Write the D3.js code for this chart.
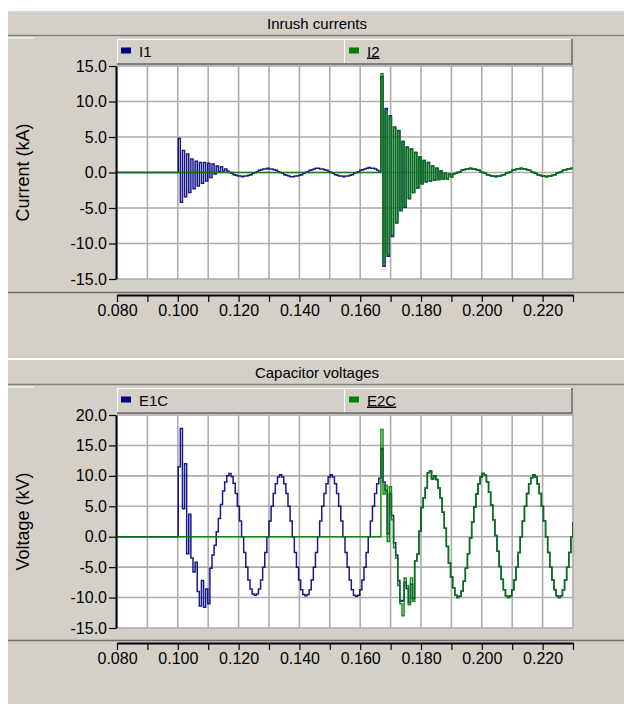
<!DOCTYPE html>
<html>
<head>
<meta charset="utf-8">
<script src="https://d3js.org/d3.v7.min.js"></script>
<style>
  body { margin: 0; background: #fff; }
  svg { display: block; font-family: "Liberation Sans", Arial, sans-serif; }
</style>
</head>
<body>
<svg id="chart" width="624" height="704"></svg>
<script>
// recorder sampling grid: 24 samples per 60 Hz cycle, starting at 0.080 s
const tStart = 0.08;
const tStep = 1 / 1440;

const timeTicks = [0.08, 0.09, 0.10, 0.11, 0.12, 0.13, 0.14, 0.15, 0.16, 0.17, 0.18, 0.19, 0.20, 0.21, 0.22, 0.23];
const timeLabels = [0.08, 0.10, 0.12, 0.14, 0.16, 0.18, 0.20, 0.22];
const currentTicks = [-15, -10, -5, 0, 5, 10, 15];
const voltageTicks = [-15, -10, -5, 0, 5, 10, 15, 20];

// capacitor bank 1 current (kA)
const i1 = [
  0,0,0,0,0,0,0,0,0,0,0,0,0,0,0,0,0,0,0,0,0,0,0,0,0,0,0,0,0,
  4.8,-4.2,3.1,-3.4,2.6,-2.8,1.9,-2.3,1.6,-1.9,1.4,-1.5,1.4,-1.2,1.3,-0.7,1.2,-0.2,0.9,0.1,0.8,0.2,0.5,0.2,
  0,-0.1,-0.3,-0.4,-0.5,-0.5,-0.6,-0.5,-0.5,-0.4,-0.3,-0.1,0,0.1,0.3,0.4,0.5,0.5,0.6,0.5,0.5,0.4,0.3,0.1,
  0,-0.1,-0.3,-0.4,-0.5,-0.6,-0.6,-0.5,-0.5,-0.4,-0.3,-0.1,0,0.1,0.3,0.4,0.5,0.6,0.6,0.5,0.5,0.4,0.3,0.1,
  0,-0.1,-0.3,-0.4,-0.5,-0.5,-0.6,-0.5,-0.5,-0.4,-0.3,-0.1,0,0.1,0.3,0.4,0.5,0.6,0.7,0.6,0.6,0.5,0.3,0.1,
  13.5,-13.2,9.0,-11.8,8.0,-9.0,6.4,-7.1,5.9,-5.4,4.4,-4.9,3.6,-3.7,3.3,-2.8,
  2.8,-2.2,2.2,-1.6,1.7,-1.3,1.4,-1.2,0.9,-1.1,0.6,-1.0,0.2,-0.9,-0.1,-0.9,-0.2,-0.6,-0.2,
  -0.1,0,0.1,0.3,0.4,0.5,0.5,
  0.6,0.5,0.5,0.4,0.3,0.1,0,-0.1,-0.3,-0.4,-0.5,-0.5,
  -0.6,-0.5,-0.5,-0.4,-0.3,-0.1,0,0.1,0.3,0.4,0.5,0.5,
  0.6,0.5,0.5,0.4,0.3,0.1,0,-0.1,-0.3,-0.4,-0.5,-0.5,
  -0.6,-0.5,-0.5,-0.4,-0.3,-0.1,0,0.1,0.3,0.4,0.5,0.5,
  0.6,0.5
];

// capacitor bank 2 current (kA)
const i2 = [
  0,0,0,0,0,0,0,0,0,0,0,0,0,0,0,0,0,0,0,0,0,0,0,0,0,0,0,0,0,0,0,0,0,0,0,0,0,0,0,0,0,0,0,0,0,0,0,0,0,0,
  0,0,0,0,0,0,0,0,0,0,0,0,0,0,0,0,0,0,0,0,0,0,0,0,0,0,0,0,0,0,0,0,0,0,0,0,0,0,0,0,0,0,0,0,0,0,0,0,0,0,
  0,0,0,0,0,0,0,0,0,0,0,0,0,0,0,0,0,0,0,0,0,0,0,0,0,
  13.9,-12.7,8.7,-11.5,7.8,-8.8,6.3,-7.0,5.8,-5.3,4.3,-4.8,3.5,-3.6,3.3,-2.8,
  2.8,-2.2,2.2,-1.6,1.7,-1.3,1.4,-1.2,0.9,-1.1,0.6,-1.0,0.2,-0.9,-0.1,-0.9,-0.2,-0.6,-0.2,
  -0.1,0,0.1,0.3,0.4,0.5,0.5,
  0.6,0.5,0.5,0.4,0.3,0.1,0,-0.1,-0.3,-0.4,-0.5,-0.5,
  -0.6,-0.5,-0.5,-0.4,-0.3,-0.1,0,0.1,0.3,0.4,0.5,0.5,
  0.6,0.5,0.5,0.4,0.3,0.1,0,-0.1,-0.3,-0.4,-0.5,-0.5,
  -0.6,-0.5,-0.5,-0.4,-0.3,-0.1,0,0.1,0.3,0.4,0.5,0.5,
  0.6,0.5
];

// capacitor bank 1 voltage (kV)
const e1c = [
  0,0,0,0,0,0,0,0,0,0,0,0,0,0,0,0,0,0,0,0,0,0,0,0,0,0,0,0,0,
  11.5,17.8,4.6,12.0,-2.8,3.7,-3.5,-5.8,-4.2,-9.0,-11.4,-7.2,-11.6,-8.6,-11.0,-5.2,-3.0,-1.4,
  0.8,3.0,5.3,7.5,9.0,10.0,10.4,9.9,8.8,7.1,5.0,2.6,0,-2.6,-5.0,-7.1,-8.6,-9.4,-9.6,-9.4,-8.6,-7.1,-5.0,-2.6,
  0,2.6,5.0,7.1,8.7,9.8,10.2,9.8,8.7,7.1,5.0,2.6,0,-2.6,-5.0,-7.1,-8.7,-9.5,-9.7,-9.5,-8.7,-7.1,-5.0,-2.6,
  0,2.6,5.0,7.1,8.7,9.8,10.2,9.8,8.7,7.1,5.0,2.6,0,-2.6,-5.0,-7.1,-8.7,-9.6,-9.8,-9.6,-8.7,-7.1,-5.0,-2.6,
  0,2.6,5.0,7.1,8.7,9.6,
  14.5,9.0,7.6,0.5,7.0,3.5,-1.0,-3.0,-7.2,-10.6,-10.5,-7.5,-8.5,-10.8,-7.8,-10.2,
  -4.0,-2.9,0.9,4.8,6.4,8.0,10.5,10.8,9.5,10.0,9.4,8.0,6.4,4.0,1.4,
  -1.6,-4.3,-6.6,-8.4,-9.6,-10.0,-9.8,-8.9,-7.3,-5.2,-2.8,-0.2,2.4,4.9,7.0,8.7,9.8,10.4,10.1,9.0,7.3,5.2,2.8,0.2,
  -2.4,-4.9,-7.0,-8.7,-9.7,-10.0,-9.7,-8.7,-7.1,-5.0,-2.6,0,2.6,5.0,7.1,8.7,9.7,10.2,9.8,8.7,7.1,5.0,2.6,0,
  -2.6,-5.0,-7.1,-8.7,-9.7,-10.0,-9.7,-8.7,-7.1,-5.0,-2.6,0,2.4
];

// capacitor bank 2 voltage (kV)
const e2c = [
  0,0,0,0,0,0,0,0,0,0,0,0,0,0,0,0,0,0,0,0,0,0,0,0,0,0,0,0,0,0,0,0,0,0,0,0,0,0,0,0,0,0,0,0,0,0,0,0,0,0,
  0,0,0,0,0,0,0,0,0,0,0,0,0,0,0,0,0,0,0,0,0,0,0,0,0,0,0,0,0,0,0,0,0,0,0,0,0,0,0,0,0,0,0,0,0,0,0,0,0,0,
  0,0,0,0,0,0,0,0,0,0,0,0,0,0,0,0,0,0,0,0,0,0,0,0,0,
  17.6,7.0,8.4,-0.8,8.2,2.8,-1.8,-3.5,-8.0,-11.0,-13.0,-6.8,-8.0,-11.2,-6.8,-10.6,
  -4.0,-2.9,0.9,4.8,6.4,8.0,10.5,10.8,9.5,10.0,9.4,8.0,6.4,4.0,1.4,
  -1.6,-4.3,-6.6,-8.4,-9.6,-10.0,-9.8,-8.9,-7.3,-5.2,-2.8,-0.2,2.4,4.9,7.0,8.7,9.8,10.4,10.1,9.0,7.3,5.2,2.8,0.2,
  -2.4,-4.9,-7.0,-8.7,-9.7,-10.0,-9.7,-8.7,-7.1,-5.0,-2.6,0,2.6,5.0,7.1,8.7,9.7,10.2,9.8,8.7,7.1,5.0,2.6,0,
  -2.6,-5.0,-7.1,-8.7,-9.7,-10.0,-9.7,-8.7,-7.1,-5.0,-2.6,0,2.4
];

const BG = '#d4d0c8';
const DARK = '#808080';
const BLUE = '#000080';
const GREEN = '#008000';

const svg = d3.select('#chart');
const x = d3.scaleLinear().domain([0.08, 0.23]).range([117, 573]);

function hline(g, x1, x2, yy, color, w) {
  g.append('line').attr('x1', x1).attr('x2', x2).attr('y1', yy).attr('y2', yy)
    .attr('stroke', color).attr('stroke-width', w);
}
function vline(g, xx, y1, y2, color, w) {
  g.append('line').attr('x1', xx).attr('x2', xx).attr('y1', y1).attr('y2', y2)
    .attr('stroke', color).attr('stroke-width', w);
}

function drawChart(cfg, id) {
  const g = svg.append('g');

  // panel + title band
  g.append('rect').attr('x', 8).attr('y', cfg.top).attr('width', 616)
    .attr('height', cfg.bottom - cfg.top).attr('fill', BG);
  g.append('text').attr('x', 317).attr('y', cfg.top + 17.5)
    .attr('text-anchor', 'middle').attr('font-size', 15).attr('fill', '#000')
    .text(cfg.title);
  hline(g, 8, 624, cfg.top + 24.5, DARK, 1.5);
  hline(g, 8, 34, cfg.top + 27, '#fff', 1);

  // legend bar (raised look)
  const lt = cfg.legendTop, lb = cfg.plotTop - 1;
  g.append('rect').attr('x', 117).attr('y', lt).attr('width', 456).attr('height', lb - lt).attr('fill', BG);
  hline(g, 117, 573, lt + 0.5, '#fff', 1);
  vline(g, 117.5, lt, lb, '#fff', 1);
  hline(g, 117, 573, lb - 1, DARK, 2);
  vline(g, 572, lt, lb, DARK, 2);
  vline(g, 344.5, lt + 1, lb - 2, '#fff', 1.2);

  cfg.series.forEach((s, k) => {
    const lx = k === 0 ? 121 : 349;
    g.append('rect').attr('x', lx).attr('y', lt + 8.5).attr('width', 10).attr('height', 6)
      .attr('fill', s.color);
    g.append('text').attr('x', lx + 18).attr('y', lt + 17.5).attr('font-size', 15)
      .attr('fill', '#000').attr('text-decoration', k === 1 ? 'underline' : null)
      .text(s.name);
  });

  // plot area
  const y = d3.scaleLinear().domain(cfg.yDomain).range([cfg.plotBottom, cfg.plotTop]);
  g.append('rect').attr('x', 117).attr('y', cfg.plotTop).attr('width', 456)
    .attr('height', cfg.plotBottom - cfg.plotTop).attr('fill', '#fff');

  const grid = g.append('g').attr('stroke', '#adadad').attr('stroke-width', 1.6);
  timeTicks.forEach(t => {
    grid.append('line').attr('x1', x(t)).attr('x2', x(t))
      .attr('y1', cfg.plotTop).attr('y2', cfg.plotBottom);
  });
  cfg.yTicks.forEach(v => {
    grid.append('line').attr('x1', 117).attr('x2', 573)
      .attr('y1', y(v)).attr('y2', y(v));
  });

  g.append('clipPath').attr('id', 'clip' + id).append('rect')
    .attr('x', 117).attr('y', cfg.plotTop - 2).attr('width', 456)
    .attr('height', cfg.plotBottom - cfg.plotTop + 4);

  const line = d3.line()
    .x((d, i) => x(tStart + i * tStep))
    .y(d => y(d))
    .curve(d3.curveStepAfter);

  cfg.series.forEach(s => {
    g.append('path').datum(s.values)
      .attr('clip-path', 'url(#clip' + id + ')')
      .attr('fill', 'none').attr('stroke', s.color).attr('stroke-width', 1.5)
      .attr('stroke-opacity', 0.9)
      .attr('d', line);
  });

  // y axis
  const yAxis = d3.axisLeft(y).tickValues(cfg.yTicks).tickSize(7).tickSizeOuter(0)
    .tickFormat(d => d.toFixed(1));
  const ya = g.append('g').attr('transform', 'translate(116,0)').call(yAxis);
  ya.select('.domain').attr('stroke', '#000').attr('stroke-width', 2);
  ya.selectAll('.tick line').attr('stroke', '#000').attr('stroke-width', 1.2);
  ya.selectAll('.tick text').attr('font-size', 16).attr('font-family', null)
    .attr('fill', '#000').attr('x', -9);

  g.append('text')
    .attr('transform', `translate(${cfg.yLabelX},${(cfg.plotTop + cfg.plotBottom) / 2}) rotate(-90)`)
    .attr('text-anchor', 'middle').attr('font-size', 18).attr('fill', '#000')
    .text(cfg.yLabel);

  // x axis, in its own band below the plot
  hline(g, 8, 624, cfg.sepY, '#6e6e6e', 1.5);
  const xAxis = d3.axisBottom(x).tickValues(timeTicks).tickSize(7).tickSizeOuter(0)
    .tickFormat(d => timeLabels.some(v => Math.abs(v - d) < 1e-9) ? d.toFixed(3) : '');
  const xa = g.append('g').attr('transform', `translate(0,${cfg.axisY})`).call(xAxis);
  xa.select('.domain').attr('stroke', '#000').attr('stroke-width', 2);
  xa.selectAll('.tick line').attr('stroke', '#000').attr('stroke-width', 1.2);
  xa.selectAll('.tick text').attr('font-size', 16).attr('font-family', null)
    .attr('fill', '#000').attr('y', 10);
}

drawChart({
  top: 11, bottom: 358, title: 'Inrush currents', legendTop: 39,
  plotTop: 66, plotBottom: 279, yDomain: [-15, 15], yTicks: currentTicks,
  yLabel: 'Current (kA)', yLabelX: 29, sepY: 292.5, axisY: 295,
  series: [{ name: 'I1', values: i1, color: BLUE }, { name: 'I2', values: i2, color: GREEN }]
}, 1);

drawChart({
  top: 360, bottom: 704, title: 'Capacitor voltages', legendTop: 388,
  plotTop: 415, plotBottom: 628, yDomain: [-15, 20], yTicks: voltageTicks,
  yLabel: 'Voltage (kV)', yLabelX: 29, sepY: 640.5, axisY: 643,
  series: [{ name: 'E1C', values: e1c, color: BLUE }, { name: 'E2C', values: e2c, color: GREEN }]
}, 2);
</script>
</body>
</html>
